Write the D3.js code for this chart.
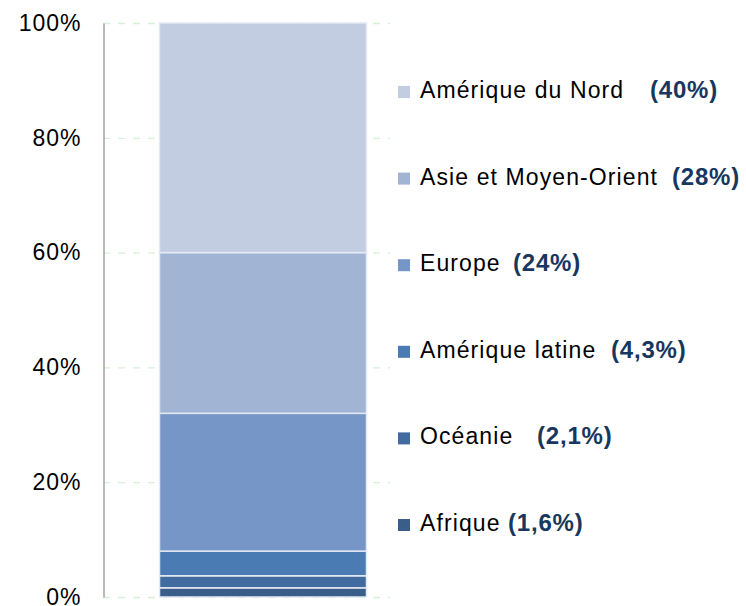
<!DOCTYPE html>
<html>
<head>
<meta charset="utf-8">
<script src="https://cdn.jsdelivr.net/npm/d3@7"></script>
<style>
  body { margin: 0; background: #fff; }
  text { font-family: "Liberation Sans", Arial, sans-serif; }
</style>
</head>
<body>
<div id="chart"></div>
<script>
var width = 746, height = 606;

// data, bottom to top
var regions = ["Afrique", "Océanie", "Amérique latine", "Europe", "Asie et Moyen-Orient", "Amérique du Nord"];
var shares = [1.6, 2.1, 4.3, 24, 28, 40];
var shareLabels = ["(1,6%)", "(2,1%)", "(4,3%)", "(24%)", "(28%)", "(40%)"];
var colors = ["#3b5d8a", "#426c9f", "#4a7bb3", "#7596c6", "#a1b4d4", "#c3cde2"];
var yTicks = [0, 20, 40, 60, 80, 100];

// where each value label starts (text layout only)
var valueX = [508, 537, 611, 513, 672, 650];

var svg = d3.select("#chart")
  .append("svg")
    .attr("width", width)
    .attr("height", height);

var y = d3.scaleLinear()
  .domain([0, 100])
  .range([597, 23]);

var x = d3.scaleBand()
  .domain(["total"])
  .range([103, 423])
  .paddingInner(0)
  .paddingOuter(0.273);

// gridlines
svg.append("g")
  .selectAll("line")
  .data(yTicks)
  .enter()
  .append("line")
    .attr("x1", 103)
    .attr("x2", 390)
    .attr("y1", function(d){ return y(d) + 0.5; })
    .attr("y2", function(d){ return y(d) + 0.5; })
    .style("stroke", "#d6f2d6")
    .style("stroke-width", 1.3)
    .style("stroke-dasharray", "7,8");

// y axis
var yAxis = svg.append("g")
  .attr("transform", "translate(103.5,0)")
  .call(d3.axisLeft(y).tickValues(yTicks).tickSize(0).tickPadding(22).tickFormat(function(d){ return d + "%"; }));
yAxis.select(".domain").style("stroke", "#a0a0a0").style("stroke-width", 1.5);
yAxis.selectAll("text")
  .style("font-family", "Liberation Sans, Arial, sans-serif")
  .style("font-size", "23px")
  .style("letter-spacing", "1px")
  .style("fill", "#000");

// stacked segments
var stack = [];
var base = 0;
shares.forEach(function(v, i) {
  stack.push({ region: regions[i], y0: base, y1: base + v, color: colors[i] });
  base += v;
});

svg.append("g")
  .selectAll("rect")
  .data(stack)
  .enter()
  .append("rect")
    .attr("x", x("total"))
    .attr("width", x.bandwidth())
    .attr("y", function(d){ return y(d.y1); })
    .attr("height", function(d){ return y(d.y0) - y(d.y1); })
    .style("fill", function(d){ return d.color; })
    .style("stroke", "#e4e9f3")
    .style("stroke-width", 1.5);

// legend, top to bottom
var legendY = d3.scalePoint()
  .domain(regions.slice().reverse())
  .range([90, 523]);

var legend = svg.append("g")
  .selectAll("g")
  .data(regions.map(function(r, i){ return { region: r, label: shareLabels[i], color: colors[i], vx: valueX[i] }; }))
  .enter()
  .append("g")
    .attr("transform", function(d){ return "translate(0," + legendY(d.region) + ")"; });

legend.append("rect")
  .attr("x", 398)
  .attr("y", -4)
  .attr("width", 12)
  .attr("height", 12)
  .style("fill", function(d){ return d.color; });

legend.append("text")
  .attr("x", 420)
  .attr("y", 8)
  .style("font-size", "23px")
  .style("letter-spacing", "1.1px")
  .style("fill", "#000")
  .text(function(d){ return d.region; });

legend.append("text")
  .attr("x", function(d){ return d.vx; })
  .attr("y", 8)
  .style("font-size", "24px")
  .style("letter-spacing", "0.8px")
  .style("font-weight", "bold")
  .style("fill", "#17375e")
  .text(function(d){ return d.label; });
</script>
</body>
</html>
